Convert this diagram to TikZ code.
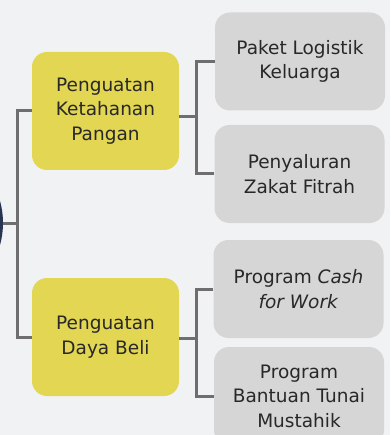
\documentclass[tikz,border=0pt]{standalone}
\usepackage{fontspec}
\setmainfont{DejaVu Sans}
\usepackage{tikz}
\usetikzlibrary{positioning, calc}
\definecolor{paper}{RGB}{241,242,244}
\definecolor{mustard}{RGB}{226,214,82}
\definecolor{fog}{RGB}{214,214,215}
\definecolor{wire}{RGB}{110,110,113}
\definecolor{navy}{RGB}{40,52,82}
\definecolor{ink}{RGB}{40,40,40}

\begin{document}
\begin{tikzpicture}[
  x=1pt, y=-1pt,
  pillar/.style={rectangle, rounded corners=15pt, fill=mustard,
                 minimum width=147pt, minimum height=118pt, inner sep=0pt,
                 align=center, text=ink, font=\fontsize{18.5}{24.5}\selectfont},
  prog/.style={rectangle, rounded corners=15pt, fill=fog,
               minimum width=170pt, minimum height=98pt, inner sep=0pt,
               align=center, text=ink, font=\fontsize{18.5}{24.5}\selectfont},
  hub/.style={circle, fill=navy, minimum size=164pt, inner sep=0pt},
  link/.style={draw=wire, line width=3pt}]
  \useasboundingbox[fill=paper] (0,0) rectangle (390,435);
  \begin{scope}
  \clip (0,0) rectangle (390,435);
  \node[hub] (root) at (-79,223) {};
  \coordinate (trunk) at (17,223);
  \node[pillar] (ketahanan) at (105.5,111) {Penguatan\\Ketahanan\\Pangan};
  \node[pillar] (dayabeli) at (105.5,337) {Penguatan\\Daya Beli};
  \node[prog] (paket) at (300,61.5) {Paket Logistik\\Keluarga};
  \node[prog] (zakat) at (299.5,174) {Penyaluran\\Zakat Fitrah};
  \node[prog] (cash) at (298.5,289) {Program \textit{Cash}\\\textit{for Work}};
  \node[prog] (bantuan) at (299,396) {Program\\Bantuan Tunai\\Mustahik};
  \coordinate (forkK) at (196,117);
  \coordinate (forkD) at (196,338);
  % trunk on the left
  \draw[link] (root) -- (trunk);
  \draw[link] (ketahanan.west) -| (trunk) |- (dayabeli.west);
  % forks on the right
  \draw[link] (ketahanan.east |- forkK) -- (forkK);
  \draw[link] (paket.west) -| (forkK) |- (zakat.west);
  \draw[link] (dayabeli.east |- forkD) -- (forkD);
  \draw[link] (cash.west) -| (forkD) |- (bantuan.west);
  \end{scope}
\end{tikzpicture}
\end{document}
